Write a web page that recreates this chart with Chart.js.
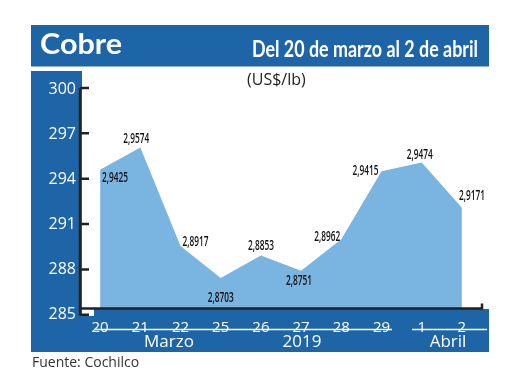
<!DOCTYPE html>
<html>
<head>
<meta charset="utf-8">
<script src="https://cdn.jsdelivr.net/npm/chart.js@4"></script>
<style>
html, body { margin: 0; padding: 0; background: #fff; }
</style>
</head>
<body>
<canvas id="cobreChart" width="520" height="390"></canvas>
<script>
// Data
var days = ['20', '21', '22', '25', '26', '27', '28', '29', '1', '2'];
var prices = [2.9425, 2.9574, 2.8917, 2.8703, 2.8853, 2.8751, 2.8962, 2.9415, 2.9474, 2.9171]; // US$/lb
var yTicks = [285, 288, 291, 294, 297, 300];
var periodLabels = ['Marzo', '2019', 'Abril'];

var darkBlue = '#1e65a8';
var lightBlue = '#7ab4e1';

// where each value label sits relative to its point: dx, dy, align
var labelPos = [
    [2, 8, 'left'], [-4, -8, 'center'], [2, -4, 'left'], [0, 20, 'center'], [0, -10, 'center'],
    [-2, 10, 'center'], [-1, -2, 'right'], [-3, 0, 'right'], [-2, -7, 'center'], [-3, -12, 'left']
];

// draw text squeezed horizontally to a given width
function fitText(ctx, text, x, y, width, align) {
    var w = ctx.measureText(text).width;
    ctx.save();
    ctx.translate(x, y);
    ctx.scale(width / w, 1);
    ctx.textAlign = align;
    ctx.fillText(text, 0, 0);
    ctx.restore();
}

var frame = {
    id: 'frame',
    beforeDraw: function(chart) {
        var ctx = chart.ctx;
        ctx.save();
        ctx.fillStyle = '#fff';
        ctx.fillRect(0, 0, 520, 390);
        ctx.fillStyle = darkBlue;
        ctx.fillRect(31, 25, 458, 41.5);   // title bar
        ctx.fillRect(31, 71, 51, 240);     // left strip
        ctx.fillRect(31, 309, 458, 43);    // bottom bar
        ctx.fillStyle = '#fff';
        ctx.fillRect(82, 309, 12, 7);

        ctx.fillStyle = '#fff';
        ctx.textBaseline = 'alphabetic';
        ctx.font = 'bold 28px Lato';
        fitText(ctx, 'Cobre', 40, 54, 82, 'left');
        ctx.font = 'bold 22px Lato';
        fitText(ctx, 'Del 20 de marzo al 2 de abril', 478, 57, 226, 'right');

        ctx.fillStyle = '#222';
        ctx.font = '16px "Open Sans"';
        ctx.textAlign = 'left';
        ctx.fillText('(US$/lb)', 247, 85);

        ctx.fillStyle = '#333';
        ctx.font = '14px "Open Sans"';
        ctx.fillText('Fuente: Cochilco', 32, 367);

        // month underlines and labels
        ctx.strokeStyle = '#fff';
        ctx.lineWidth = 1.5;
        ctx.beginPath();
        ctx.moveTo(94, 329.5); ctx.lineTo(392, 329.5);
        ctx.moveTo(412, 329.5); ctx.lineTo(487, 329.5);
        ctx.stroke();
        ctx.fillStyle = '#fff';
        ctx.font = '17px "Open Sans"';
        ctx.textAlign = 'center';
        ctx.fillText(periodLabels[0], 169, 347);
        ctx.fillText(periodLabels[1], 302, 347);
        ctx.fillText(periodLabels[2], 448, 347);
        ctx.restore();
    }
};

var axesAndLabels = {
    id: 'axesAndLabels',
    afterDatasetsDraw: function(chart) {
        var ctx = chart.ctx;
        var a = chart.chartArea;
        var ys = chart.scales.y;
        ctx.save();
        ctx.strokeStyle = '#222';
        ctx.lineWidth = 2.5;
        ctx.beginPath();
        ctx.moveTo(a.left, ys.getPixelForValue(300) + 4.5);
        ctx.lineTo(a.left, ys.getPixelForValue(285) + 7);
        yTicks.forEach(function(v) {
            var y = ys.getPixelForValue(v) + 4.5 + (300 - v) * 0.12;
            ctx.moveTo(a.left, y);
            ctx.lineTo(a.left + 9, y);
        });
        ctx.moveTo(a.left, a.bottom);
        ctx.lineTo(a.right, a.bottom);
        ctx.lineTo(a.right, a.bottom - 5);
        ctx.stroke();

        // value labels
        var meta = chart.getDatasetMeta(0);
        ctx.fillStyle = '#111';
        ctx.font = '600 14px "Open Sans"';
        ctx.textBaseline = 'middle';
        meta.data.forEach(function(pt, i) {
            var txt = prices[i].toFixed(4).replace('.', ',');
            var p = labelPos[i];
            fitText(ctx, txt, pt.x + p[0], pt.y + p[1], 26, p[2]);
        });
        ctx.restore();
    }
};

var ctx = document.getElementById('cobreChart').getContext('2d');
var cobreChart = new Chart(ctx, {
    type: 'line',
    data: {
        labels: days,
        datasets: [{
            label: 'Cobre',
            data: prices.map(function(p) { return p * 100; }),
            backgroundColor: lightBlue,
            borderColor: lightBlue,
            borderWidth: 0,
            pointRadius: 0,
            fill: 'start',
            tension: 0
        }]
    },
    options: {
        responsive: false,
        animation: false,
        events: [],
        layout: { padding: { left: 30, right: 38, top: 83.5, bottom: 51.5 } },
        plugins: {
            legend: { display: false },
            tooltip: { enabled: false }
        },
        scales: {
            x: {
                offset: true,
                grid: { display: false },
                border: { display: false },
                ticks: {
                    color: '#fff',
                    font: { family: 'Open Sans', size: 15 },
                    padding: 2,
                    maxRotation: 0,
                    autoSkip: false
                },
                afterFit: function(s) { s.height = 30; }
            },
            y: {
                min: 285,
                max: 300,
                grid: { display: false, drawTicks: false },
                border: { display: false },
                ticks: {
                    color: '#fff',
                    font: { family: 'Open Sans', size: 16 },
                    padding: 4,
                    labelOffset: 5.5
                },
                afterBuildTicks: function(s) {
                    s.ticks = yTicks.map(function(v) { return { value: v }; });
                },
                afterFit: function(s) { s.width = 50; }
            }
        }
    },
    plugins: [frame, axesAndLabels]
});
</script>
</body>
</html>
